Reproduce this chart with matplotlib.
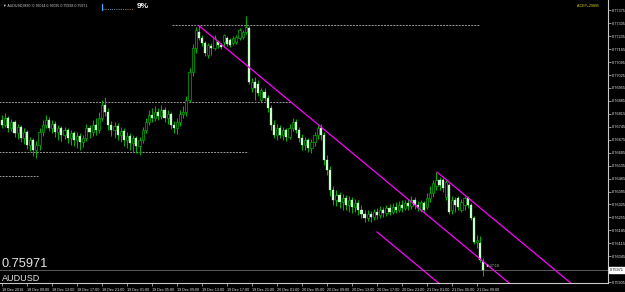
"""AUDUSD M30 candlestick chart in the MetaTrader black style, written to out.png."""

import matplotlib

matplotlib.use("Agg")
import matplotlib.pyplot as plt  # noqa: E402
import numpy as np  # noqa: E402
from matplotlib.lines import Line2D  # noqa: E402

SYMBOL = "AUDUSD"
PERIOD = "M30"

# OHLC of the 155 half-hour bars, oldest first
opens = [
    0.76782, 0.76755, 0.76793, 0.76739, 0.76771, 0.76711, 0.76744, 0.76684, 0.76717, 0.76647,
    0.76674, 0.76619, 0.76647, 0.76717, 0.76755, 0.76782, 0.76739, 0.76760, 0.76717, 0.76739,
    0.76701, 0.76728, 0.76684, 0.76711, 0.76674, 0.76695, 0.76663, 0.76684, 0.76739, 0.76717,
    0.76755, 0.76728, 0.76793, 0.76863, 0.76825, 0.76755, 0.76728, 0.76749, 0.76701, 0.76722,
    0.76674, 0.76695, 0.76657, 0.76684, 0.76641, 0.76674, 0.76728, 0.76771, 0.76809, 0.76793,
    0.76825, 0.76803, 0.76836, 0.76793, 0.76814, 0.76755, 0.76739, 0.76771, 0.76814, 0.76825,
    0.76890, 0.77041, 0.77171, 0.77258, 0.77225, 0.77198, 0.77133, 0.77182, 0.77171, 0.77204,
    0.77188, 0.77204, 0.77225, 0.77215, 0.77198, 0.77204, 0.77225, 0.77231, 0.77258, 0.77280,
    0.76955, 0.76987, 0.76977, 0.76890, 0.76933, 0.76901, 0.76847, 0.76755, 0.76701, 0.76739,
    0.76701, 0.76728, 0.76690, 0.76739, 0.76771, 0.76728, 0.76684, 0.76647, 0.76674, 0.76630,
    0.76663, 0.76701, 0.76739, 0.76701, 0.76565, 0.76511, 0.76403, 0.76349, 0.76376, 0.76338,
    0.76360, 0.76322, 0.76349, 0.76311, 0.76333, 0.76295, 0.76273, 0.76252, 0.76273, 0.76257,
    0.76284, 0.76268, 0.76295, 0.76279, 0.76306, 0.76284, 0.76311, 0.76295, 0.76322, 0.76306,
    0.76333, 0.76317, 0.76349, 0.76322, 0.76295, 0.76333, 0.76311, 0.76360, 0.76387, 0.76425,
    0.76457, 0.76457, 0.76365, 0.76430, 0.76295, 0.76349, 0.76360, 0.76295, 0.76322, 0.76360,
    0.76322, 0.76252, 0.76122, 0.76116, 0.76014,
]
highs = [
    0.76809, 0.76820, 0.76803, 0.76787, 0.76782, 0.76760, 0.76755, 0.76739, 0.76728, 0.76690,
    0.76684, 0.76668, 0.76739, 0.76782, 0.76809, 0.76798, 0.76782, 0.76776, 0.76755, 0.76749,
    0.76744, 0.76739, 0.76728, 0.76722, 0.76717, 0.76711, 0.76701, 0.76760, 0.76755, 0.76782,
    0.76793, 0.76825, 0.76890, 0.76906, 0.76847, 0.76776, 0.76771, 0.76766, 0.76744, 0.76739,
    0.76717, 0.76711, 0.76701, 0.76695, 0.76690, 0.76744, 0.76793, 0.76836, 0.76847, 0.76858,
    0.76847, 0.76863, 0.76852, 0.76836, 0.76825, 0.76776, 0.76793, 0.76836, 0.76858, 0.76912,
    0.77063, 0.77193, 0.77285, 0.77292, 0.77242, 0.77209, 0.77198, 0.77198, 0.77242, 0.77215,
    0.77198, 0.77247, 0.77236, 0.77225, 0.77236, 0.77242, 0.77280, 0.77269, 0.77344, 0.77290,
    0.77009, 0.77014, 0.76998, 0.76955, 0.76955, 0.76917, 0.76863, 0.76782, 0.76760, 0.76755,
    0.76744, 0.76739, 0.76760, 0.76793, 0.76787, 0.76744, 0.76706, 0.76690, 0.76684, 0.76679,
    0.76717, 0.76755, 0.76760, 0.76717, 0.76592, 0.76533, 0.76425, 0.76403, 0.76392, 0.76381,
    0.76376, 0.76371, 0.76365, 0.76354, 0.76349, 0.76322, 0.76295, 0.76295, 0.76289, 0.76300,
    0.76306, 0.76317, 0.76311, 0.76322, 0.76327, 0.76333, 0.76338, 0.76344, 0.76349, 0.76349,
    0.76354, 0.76371, 0.76365, 0.76344, 0.76349, 0.76344, 0.76387, 0.76425, 0.76457, 0.76500,
    0.76473, 0.76468, 0.76457, 0.76441, 0.76371, 0.76365, 0.76371, 0.76354, 0.76371, 0.76371,
    0.76333, 0.76262, 0.76160, 0.76154, 0.76035,
]
lows = [
    0.76739, 0.76744, 0.76717, 0.76722, 0.76690, 0.76679, 0.76663, 0.76652, 0.76625, 0.76614,
    0.76587, 0.76576, 0.76619, 0.76695, 0.76739, 0.76722, 0.76711, 0.76690, 0.76674, 0.76668,
    0.76679, 0.76657, 0.76647, 0.76641, 0.76630, 0.76619, 0.76636, 0.76668, 0.76684, 0.76695,
    0.76701, 0.76711, 0.76776, 0.76803, 0.76728, 0.76695, 0.76684, 0.76674, 0.76663, 0.76641,
    0.76630, 0.76619, 0.76609, 0.76603, 0.76592, 0.76657, 0.76711, 0.76755, 0.76771, 0.76776,
    0.76782, 0.76787, 0.76771, 0.76760, 0.76733, 0.76711, 0.76706, 0.76749, 0.76793, 0.76803,
    0.76879, 0.77020, 0.77144, 0.77215, 0.77182, 0.77128, 0.77117, 0.77133, 0.77160, 0.77171,
    0.77166, 0.77177, 0.77182, 0.77177, 0.77188, 0.77193, 0.77215, 0.77220, 0.77247, 0.76977,
    0.76933, 0.76890, 0.76912, 0.76879, 0.76885, 0.76825, 0.76728, 0.76684, 0.76674, 0.76684,
    0.76674, 0.76668, 0.76679, 0.76722, 0.76711, 0.76663, 0.76619, 0.76619, 0.76609, 0.76603,
    0.76641, 0.76679, 0.76674, 0.76538, 0.76484, 0.76371, 0.76322, 0.76317, 0.76306, 0.76295,
    0.76295, 0.76284, 0.76279, 0.76284, 0.76268, 0.76252, 0.76230, 0.76235, 0.76230, 0.76241,
    0.76246, 0.76252, 0.76257, 0.76262, 0.76268, 0.76273, 0.76279, 0.76284, 0.76284, 0.76295,
    0.76295, 0.76300, 0.76300, 0.76289, 0.76284, 0.76284, 0.76300, 0.76338, 0.76365, 0.76403,
    0.76403, 0.76392, 0.76349, 0.76273, 0.76273, 0.76284, 0.76295, 0.76284, 0.76295, 0.76306,
    0.76241, 0.76111, 0.76089, 0.76014, 0.75938,
]
closes = [
    0.76755, 0.76793, 0.76739, 0.76771, 0.76711, 0.76744, 0.76684, 0.76717, 0.76647, 0.76674,
    0.76619, 0.76647, 0.76717, 0.76755, 0.76782, 0.76739, 0.76760, 0.76717, 0.76739, 0.76701,
    0.76728, 0.76684, 0.76711, 0.76674, 0.76695, 0.76663, 0.76684, 0.76739, 0.76717, 0.76755,
    0.76728, 0.76793, 0.76863, 0.76825, 0.76755, 0.76728, 0.76749, 0.76701, 0.76722, 0.76674,
    0.76695, 0.76657, 0.76684, 0.76641, 0.76674, 0.76728, 0.76771, 0.76809, 0.76793, 0.76825,
    0.76803, 0.76836, 0.76793, 0.76814, 0.76755, 0.76739, 0.76771, 0.76814, 0.76825, 0.76890,
    0.77041, 0.77171, 0.77269, 0.77225, 0.77198, 0.77144, 0.77188, 0.77171, 0.77225, 0.77188,
    0.77177, 0.77242, 0.77193, 0.77188, 0.77225, 0.77231, 0.77269, 0.77258, 0.77285, 0.76987,
    0.76987, 0.76955, 0.76928, 0.76944, 0.76901, 0.76847, 0.76755, 0.76701, 0.76739, 0.76701,
    0.76728, 0.76690, 0.76739, 0.76771, 0.76728, 0.76684, 0.76647, 0.76674, 0.76630, 0.76663,
    0.76701, 0.76739, 0.76701, 0.76565, 0.76511, 0.76403, 0.76349, 0.76376, 0.76338, 0.76360,
    0.76322, 0.76349, 0.76311, 0.76333, 0.76295, 0.76273, 0.76252, 0.76273, 0.76257, 0.76284,
    0.76268, 0.76295, 0.76279, 0.76306, 0.76284, 0.76311, 0.76295, 0.76322, 0.76306, 0.76333,
    0.76317, 0.76349, 0.76322, 0.76306, 0.76338, 0.76295, 0.76360, 0.76387, 0.76441, 0.76457,
    0.76430, 0.76414, 0.76446, 0.76284, 0.76349, 0.76322, 0.76311, 0.76338, 0.76360, 0.76322,
    0.76252, 0.76122, 0.76133, 0.76024, 0.75971,
]

# time axis: one label every 8 bars (4 hours)
time_tick_bars = [0, 8, 16, 24, 32, 40, 48, 56, 64, 72, 80, 88, 96, 104, 112, 120, 128, 136, 144, 152]
time_labels = [
    "18 Dec 2016", "18 Dec 09:00", "18 Dec 13:00", "18 Dec 17:00", "18 Dec 21:00",
    "19 Dec 01:00", "19 Dec 05:00", "19 Dec 09:00", "19 Dec 13:00", "19 Dec 17:00",
    "19 Dec 21:00", "20 Dec 01:00", "20 Dec 05:00", "20 Dec 09:00", "20 Dec 13:00",
    "20 Dec 17:00", "20 Dec 21:00", "21 Dec 01:00", "21 Dec 05:00", "21 Dec 09:00",
]

# price scale labels (the 0.75975 one sits under the bid box)
price_ticks = [
    0.75905, 0.76045, 0.76115, 0.76185, 0.76255, 0.76325, 0.76395, 0.76465, 0.76535, 0.76605,
    0.76675, 0.76745, 0.76815, 0.76885, 0.76955, 0.77025, 0.77095, 0.77165, 0.77235, 0.77305,
    0.77375,
]

# dotted horizontal levels: price, first bar, last bar
level_prices = [0.77296, 0.76879, 0.76609, 0.76479]
level_start = [54.4, -1.0, -1.0, -1.0]
level_end = [153.0, 92.2, 78.7, 11.5]

# magenta channel trend lines: (bar, price) -> (bar, price)
trend_x0 = [63.0, 139.2, 120.0]
trend_p0 = [0.77292, 0.76500, 0.76176]
trend_x1 = [175.0, 190.0, 150.0]
trend_p1 = [0.75721, 0.75787, 0.75755]

W, H = 625, 292
PLOT_RIGHT, PLOT_BOTTOM = 608, 283
BG = "black"
WICK = "#00b000"
BEAR_BODY = "#c8ffc8"
AXIS = "#c8c8c8"
TEXT = "#e6e6e6"
FONT = ["Liberation Sans", "DejaVu Sans"]

plt.rcParams["font.family"] = FONT

fig = plt.figure(figsize=(W / 100, H / 100), dpi=100, facecolor=BG)
ax = fig.add_axes([0, (H - PLOT_BOTTOM) / H, PLOT_RIGHT / W, PLOT_BOTTOM / H])
ax.set_facecolor(BG)

o = np.array(opens)
h = np.array(highs)
lo = np.array(lows)
c = np.array(closes)
idx = np.arange(len(c))

# candles: wick first, body on top
ax.vlines(idx, lo, h, color=WICK, linewidth=0.75, zorder=2)
bull = c >= o
body_h = np.maximum(np.abs(c - o), 0.00003)
body_b = np.minimum(o, c)
ax.bar(idx[bull], body_h[bull], bottom=body_b[bull], width=0.7,
       color=BG, edgecolor=WICK, linewidth=0.5, zorder=3)
ax.bar(idx[~bull], body_h[~bull], bottom=body_b[~bull], width=0.7,
       color=BEAR_BODY, edgecolor=BEAR_BODY, linewidth=0.2, zorder=3)

# dotted levels
for p, x0, x1 in zip(level_prices, level_start, level_end):
    ax.plot([x0, x1], [p, p], color="#9a9a9a", linewidth=0.7,
            linestyle=(0, (2, 1.2)), zorder=1)

# channel
for x0, p0, x1, p1 in zip(trend_x0, trend_p0, trend_x1, trend_p1):
    ax.plot([x0, x1], [p0, p1], color="#ff00ff", linewidth=0.9, zorder=4)

# bid line
last = closes[-1]
ax.axhline(last, color="#5a5a5a", linewidth=0.7, zorder=1)

ax.set_xlim(-0.64, 193.9)
ax.set_ylim(0.75900, 0.77431)

for side in ("left", "top"):
    ax.spines[side].set_visible(False)
for side in ("right", "bottom"):
    ax.spines[side].set_color(AXIS)
    ax.spines[side].set_linewidth(0.8)

ax.yaxis.tick_right()
ax.set_yticks(price_ticks)
ax.set_yticklabels([f"{p:.5f}" for p in price_ticks])
ax.tick_params(axis="y", direction="out", length=2, width=0.5, colors=AXIS,
               labelsize=2.8, pad=0.8, labelcolor=TEXT)

ax.set_xticks(time_tick_bars)
ax.set_xticklabels(time_labels)
for lbl in ax.get_xticklabels():
    lbl.set_horizontalalignment("left")
ax.tick_params(axis="x", direction="out", length=2.5, width=0.5, colors=AXIS,
               labelsize=2.7, pad=0.8, labelcolor=TEXT)

# bid price box on the scale
ax.annotate(f"{last:.5f}", xy=(1.0, last), xycoords=("axes fraction", "data"),
            xytext=(1.2, 0), textcoords="offset points", va="center", ha="left",
            fontsize=2.8, color="black", annotation_clip=False,
            bbox=dict(boxstyle="square,pad=0.25", facecolor="white", edgecolor="white"))

# bar countdown next to the last candle
ax.annotate("\u25c20:27:19", xy=(idx[-1], last), xytext=(2, 3),
            textcoords="offset points", fontsize=2.6, color="#bdbdbd",
            va="center", ha="left", zorder=5)

# figure-pixel overlay for the terminal decorations
deco = fig.add_axes([0, 0, 1, 1])
deco.set_xlim(0, W)
deco.set_ylim(H, 0)
deco.axis("off")
deco.patch.set_alpha(0)

header = f"\u25bc {SYMBOL},{PERIOD}  {opens[-1]:.5f} {highs[-1]:.5f} {lows[-1]:.5f} {closes[-1]:.5f}"
deco.text(3, 5.5, header, fontsize=2.6, color="#d0d0d0", va="center", ha="left")

# tick-volume progress bar
deco.add_line(Line2D([101.5, 101.5], [3.5, 10], color="#3ab0ff", linewidth=0.8))
deco.add_line(Line2D([103, 125], [8.5, 8.5], color="#a8c8e8", linewidth=0.6,
                     linestyle=(0, (1, 1.6))))
deco.add_line(Line2D([125, 133], [8.5, 8.5], color="#e0a040", linewidth=0.6,
                     linestyle=(0, (1, 1.6))))
deco.text(136.5, 6.5, "9%", fontsize=6, fontweight="bold", color="white",
          va="center", ha="left")

deco.text(577, 6, "A-CEP+29895", fontsize=2.6, color="#d4d400", va="center", ha="left")

deco.text(2, 267, f"{last:.5f}", fontsize=9.2, color=TEXT, va="baseline", ha="left")
deco.text(2, 281, SYMBOL, fontsize=6.5, color=TEXT, va="baseline", ha="left")

fig.savefig("out.png", dpi=100, facecolor=BG)
print("Wrote out.png")
